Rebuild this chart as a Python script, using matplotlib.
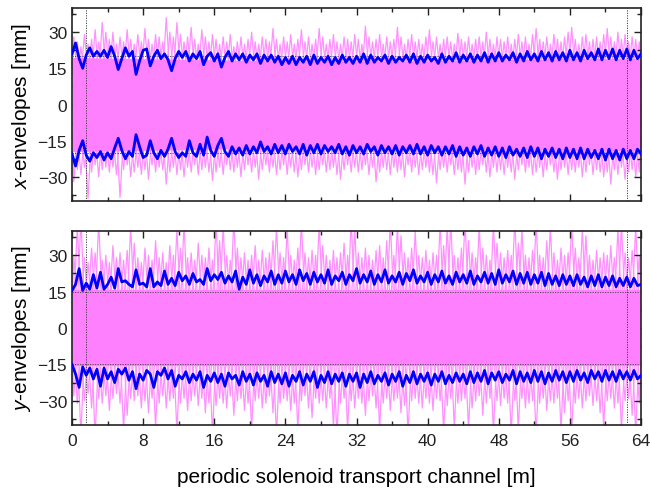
import numpy as np
import matplotlib
matplotlib.use("Agg")
import matplotlib.pyplot as plt
from matplotlib.ticker import MultipleLocator

plt.rcParams['font.family'] = ['Liberation Sans', 'DejaVu Sans']
plt.rcParams['mathtext.fontset'] = 'custom'
plt.rcParams['mathtext.it'] = 'Liberation Sans:italic'
plt.rcParams['mathtext.rm'] = 'Liberation Sans'

# channel length [m]
CHANNEL_LEN = 64.0
# marks for the start / end of the matched section [m]
SECTION_MARKS = [1.6, 62.4]

# rms-type envelopes (blue), sampled every 0.4 m
x_env_upper = [
    21, 25.5, 19, 15, 20.5, 23.5, 20, 22, 20, 22.5,
    19.5, 24, 20, 14.5, 19, 23.5, 20, 22, 12.5, 18,
    22.5, 23, 16, 20, 22.5, 19, 21, 18.5, 14, 19,
    22, 19.5, 22, 18, 21, 19, 22, 16.5, 20, 21.5,
    18, 21, 15.5, 19.5, 22, 18, 21, 18.5, 21, 17.5,
    20.5, 18.5, 21, 17, 20.5, 18, 20.5, 17.5, 20, 16.5,
    19.5, 17, 20, 16.5, 19.5, 17.5, 20, 16.5, 20.5, 17,
    19.5, 17.5, 20, 16.5, 19.5, 17, 20.5, 17.5, 19.5, 17,
    20, 17.5, 21, 17, 20.5, 17.5, 19.5, 18, 20.5, 17,
    20, 17.5, 19.5, 18, 20.5, 17.5, 21, 17, 20, 17.5,
    20.5, 18, 19.5, 17, 21, 17.5, 20, 18, 21.5, 17.5,
    20.5, 18, 21, 17.5, 20.5, 18, 21.5, 17.5, 21, 18,
    21.5, 18, 20.5, 18.5, 21.5, 17.5, 21, 18, 22, 18.5,
    21, 18, 22, 18.5, 21.5, 18, 22, 18.5, 21.5, 18,
    22.5, 18.5, 21.5, 18, 22.5, 19, 21.5, 18.5, 23, 18.5,
    22.5, 19, 23, 18.5, 22.5, 19, 23, 18.5, 22.5, 19,
    21,
]
x_env_lower = [
    -20.5, -25.5, -19, -15, -21, -23.5, -20, -22, -19.5, -23,
    -20, -22.5, -18, -14, -19, -22.5, -19.5, -21.5, -12.5, -17.5,
    -22, -21, -15, -20, -22.5, -19, -21.5, -18.5, -14, -19.5,
    -22, -20, -21.5, -15, -20, -21.5, -16.5, -21, -13.5, -19,
    -21.5, -17, -14, -19.5, -21.5, -17.5, -20.5, -18, -21, -17,
    -20.5, -17.5, -20, -15.5, -19.5, -17.5, -20.5, -16.5, -20, -17,
    -20.5, -16.5, -19.5, -17.5, -20.5, -16.5, -21, -17, -20, -16.5,
    -20.5, -17, -19.5, -17.5, -20, -16.5, -20.5, -17.5, -21, -17,
    -20, -17.5, -20.5, -16.5, -19.5, -17.5, -21, -17, -20, -17.5,
    -20.5, -17, -21, -17.5, -20, -17, -20.5, -16.5, -20.5, -17.5,
    -21, -17, -20, -17.5, -21, -17.5, -20.5, -17, -21.5, -17.5,
    -21, -18, -21.5, -17.5, -20.5, -17, -21.5, -18, -21, -17.5,
    -21.5, -18, -22, -17.5, -21, -18.5, -21.5, -18, -22, -17.5,
    -21.5, -18, -22.5, -18.5, -21.5, -18, -22, -18.5, -22.5, -18,
    -22, -18.5, -22.5, -18, -22.5, -18.5, -22, -19, -22.5, -18.5,
    -23, -18.5, -22.5, -19, -23, -18.5, -22.5, -19, -22.5, -18.5,
    -20.5,
]
y_env_upper = [
    15.5, 18, 24.5, 15.5, 18.5, 16, 22, 16.5, 23, 16,
    18, 21, 16.5, 24.5, 19, 19.5, 18, 17, 24, 18,
    18.5, 17, 24.5, 17, 19, 17.5, 23.5, 18, 20.5, 17.5,
    23, 19.5, 21.5, 18, 22.5, 19, 20, 18, 24.5, 19.5,
    22, 20, 23, 18.5, 21.5, 19, 23.5, 16, 21, 18,
    24, 18.5, 22, 17.5, 21.5, 19, 23.5, 18, 22, 18.5,
    23.5, 19, 22, 18, 24, 19.5, 22.5, 18, 23, 19,
    22, 18.5, 24, 18, 21.5, 19.5, 23, 18, 22, 19.5,
    24.5, 18.5, 22, 19, 23.5, 18, 22, 19, 24, 18.5,
    21.5, 19, 23, 18, 22.5, 19.5, 24, 18.5, 21.5, 19,
    23, 18, 22, 19, 23.5, 18.5, 21.5, 18, 23, 19,
    22, 18.5, 23.5, 18, 21.5, 19, 23, 18.5, 22.5, 18,
    24, 18.5, 22, 19, 23.5, 18, 22.5, 18.5, 23, 18,
    22, 18.5, 23, 17.5, 22.5, 18, 21.5, 17.5, 22, 18,
    21.5, 17.5, 22, 18, 21, 17, 21.5, 17.5, 22, 17,
    21, 17.5, 21.5, 17, 20.5, 17.5, 21, 17, 20.5, 17.5,
    18,
]
y_env_lower = [
    -15, -19, -24.5, -16, -19.5, -16.5, -21, -17, -24, -16.5,
    -21, -18, -22.5, -17, -19, -16.5, -21.5, -18, -25, -19,
    -21.5, -17.5, -19, -24.5, -18, -19.5, -16.5, -21, -17.5, -24,
    -19.5, -21, -18, -22.5, -19, -21.5, -18, -24.5, -19.5, -22,
    -18.5, -22.5, -19, -24, -18.5, -21, -19.5, -23.5, -18, -22,
    -19, -23.5, -18.5, -22, -19.5, -24, -18, -22.5, -19, -23,
    -18.5, -24, -19.5, -22, -18, -23.5, -19, -22, -18, -24.5,
    -19.5, -22.5, -18, -23, -19, -22, -18.5, -24, -19, -22,
    -18.5, -24.5, -19, -22.5, -18, -23, -19.5, -22, -18.5, -23.5,
    -19, -22, -18, -24, -19.5, -22.5, -18, -23, -19, -22,
    -18.5, -23.5, -19, -22, -18, -23, -19.5, -22.5, -18.5, -22,
    -19, -23, -18, -22.5, -18.5, -22, -17.5, -23, -18.5, -21.5,
    -18, -22.5, -19, -21.5, -17.5, -23, -18, -22, -18.5, -22.5,
    -17.5, -22, -18, -23, -18.5, -22, -17.5, -21.5, -18, -22.5,
    -18, -22, -17.5, -21.5, -18.5, -22.5, -17.5, -21, -18, -22,
    -17.5, -21.5, -18, -22, -17.5, -21, -18, -21.5, -17.5, -21,
    -19.5,
]

# dense particle core, half-width every 8 m
x_core_upper = [19.5, 19, 18.5, 18, 18, 18, 18.5, 19, 19]
x_core_lower = [-19.5, -19, -18.5, -18, -18, -18.5, -18.5, -19, -19]
y_core_upper = [15.5, 15.5, 15.5, 15.5, 15.5, 15.5, 15.5, 15.5, 15.5]
y_core_lower = [-15.5, -15.5, -15.5, -15.5, -15.5, -15.5, -15.5, -15.5, -15.5]

# outermost single-particle excursions, one per 0.4 m cell
x_spike_upper = [
    28, 26, 24, 29, 25, 27, 31, 26, 34, 30,
    27, 30, 25, 28, 26, 31, 27, 25, 29, 26,
    31.5, 27, 25, 29, 28, 26, 36, 30, 28, 34,
    29, 26, 28, 32, 27, 25, 31, 28, 26, 29,
    27, 25, 28, 26, 29, 24, 26, 28, 25, 27,
    30, 26, 25, 28, 27, 26, 31.5, 27, 25, 28,
    26, 29, 25, 27, 31, 26, 28, 25, 27, 31.5,
    28, 25, 27, 29, 26, 25, 28, 27, 26, 29,
    27, 25, 32.5, 28, 26, 27, 29, 25, 28, 26,
    27, 32, 28, 25, 27, 29, 26, 27, 25, 28,
    31, 26, 28, 25, 27, 28, 26, 25, 29.5, 27,
    26, 28, 25, 27, 28, 26, 30, 27, 25, 28,
    27, 26, 28, 25, 27, 29, 26, 28, 25, 29,
    31.5, 27, 26, 28, 25, 29, 27, 26, 28, 30,
    32, 27, 25, 28, 29, 26, 27, 28, 26, 29,
    31.5, 28, 26, 30, 27, 29, 26, 28, 27, 26,
]
x_spike_lower = [
    -32, -27, -29, -26, -39, -28, -25, -30, -27, -26,
    -28, -26, -29, -38.5, -27, -25, -30, -28, -26, -29,
    -27, -31, -25, -28, -26, -27, -33, -28, -26, -29,
    -27, -30, -26, -28, -25, -29, -27, -26, -28, -31.5,
    -28, -26, -29, -25, -27, -28, -26, -30, -27, -25,
    -28, -26, -31, -27, -25, -28, -26, -29, -27, -25,
    -29, -26, -28, -30, -27, -25, -28, -26, -29, -27,
    -25, -28, -27, -26, -29, -31, -27, -25, -28, -26,
    -28, -27, -25, -29, -26, -32, -28, -26, -27, -29,
    -26, -28, -27, -30, -25, -28, -26, -29, -27, -26,
    -28, -29, -32.5, -27, -26, -28, -25, -29, -27, -28,
    -33, -28, -26, -29, -27, -25, -28, -30, -26, -28,
    -27, -29, -26, -28, -31, -27, -25, -28, -26, -29,
    -28, -26, -30, -27, -25, -28, -31, -27, -26, -29,
    -27, -28, -26, -30, -28, -25, -29, -27, -28, -30,
    -28, -33, -27, -29, -26, -31, -28, -27, -30, -28,
]
y_spike_upper = [
    30, 42, 45, 29, 27, 33, 31, 44, 28, 30,
    27, 34, 29, 31, 28, 32, 42, 35, 29, 27,
    33, 30, 28, 36, 29, 31, 27, 34, 30, 41,
    33, 43, 29, 31, 28, 35, 30, 29, 33, 28,
    44, 36, 42, 30, 28, 45, 33, 29, 31, 28,
    30, 34, 28, 32, 29, 31, 36, 42, 31, 29,
    41, 30, 28, 33, 44, 31, 29, 32, 30, 43,
    34, 30, 28, 32, 29, 31, 35, 30, 45, 41,
    31, 29, 33, 30, 28, 32, 34, 29, 36, 44,
    30, 42, 38, 31, 29, 33, 40, 30, 29, 32,
    28, 31, 30, 43, 34, 42, 44, 30, 29, 33,
    45, 36, 31, 29, 42, 33, 30, 28, 43, 35,
    31, 29, 32, 30, 45, 35, 41, 30, 29, 32,
    44, 30, 29, 36, 42, 31, 28, 33, 30, 31,
    43, 33, 29, 41, 38, 30, 28, 32, 29, 31,
    30, 34, 29, 41, 43, 31, 29, 32, 42, 30,
]
y_spike_lower = [
    -28, -31, -44, -30, -27, -33, -45, -29, -31, -28,
    -34, -29, -27, -31, -42, -36, -29, -30, -28, -33,
    -30, -35, -29, -41, -31, -28, -33, -30, -29, -43,
    -31, -29, -34, -30, -28, -32, -29, -35, -31, -44,
    -32, -29, -31, -33, -28, -36, -30, -29, -34, -31,
    -42, -30, -29, -33, -31, -28, -35, -45, -31, -29,
    -30, -34, -31, -42, -30, -28, -33, -37, -29, -31,
    -30, -33, -29, -41, -45, -31, -29, -42, -30, -33,
    -29, -31, -36, -30, -28, -33, -42, -31, -29, -34,
    -30, -29, -35, -32, -44, -30, -29, -31, -33, -29,
    -31, -34, -29, -30, -43, -32, -29, -41, -31, -30,
    -29, -42, -33, -30, -28, -36, -31, -29, -43, -30,
    -32, -29, -31, -44, -30, -42, -29, -33, -31, -30,
    -45, -31, -29, -34, -30, -31, -29, -42, -35, -30,
    -44, -31, -29, -33, -30, -28, -32, -30, -35, -41,
    -30, -29, -33, -31, -42, -30, -29, -36, -43, -31,
]

# reference apertures drawn as dotted lines [mm]
x_ref_level = 20
y_ref_level = 15

PINK_CORE = '#ff80ff'
PINK_TRACE = '#ff90ff'
BLUE = '#0000ff'
CELL = CHANNEL_LEN / 160  # 0.4 m


def trace_paths(peaks, inner):
    """Two interleaved single-particle traces from one list of excursions."""
    peaks = np.asarray(peaks, float)
    paths = []
    for j in (0, 1):
        p = peaks[j::2]
        n = len(p)
        s = (np.arange(2 * n + 1) + j) * CELL - CELL / 2
        v = np.full(2 * n + 1, inner, float)
        v[1::2] = p
        paths.append((np.clip(s, 0, CHANNEL_LEN), v))
    return paths


def draw_panel(ax, env_hi, env_lo, core_hi, core_lo, spk_hi, spk_lo,
               inner, ref, label):
    env_hi = np.asarray(env_hi, float)
    env_lo = np.asarray(env_lo, float)
    s_env = np.linspace(0, CHANNEL_LEN, len(env_hi))
    s_core = np.linspace(0, CHANNEL_LEN, len(core_hi))
    for peaks, base in ((spk_hi, inner), (spk_lo, -inner)):
        for s, v in trace_paths(peaks, base):
            ax.plot(s, v, color=PINK_TRACE, lw=0.9, zorder=1)
    ax.fill_between(s_core, core_lo, core_hi, color=PINK_CORE, lw=0, zorder=2)
    for lev in (ref, -ref):
        ax.axhline(lev, color='#444444', lw=0.6, ls=(0, (1.5, 1.5)), zorder=3)
    for m in SECTION_MARKS:
        ax.axvline(m, color='#333333', lw=0.6, ls=(0, (1.5, 1.5)), zorder=3)
    ax.plot(s_env, env_hi, color=BLUE, lw=2.0, zorder=4)
    ax.plot(s_env, env_lo, color=BLUE, lw=2.0, zorder=4)

    ax.set_xlim(0, CHANNEL_LEN)
    ax.set_ylim(-40, 40)
    ax.xaxis.set_major_locator(MultipleLocator(8))
    ax.xaxis.set_minor_locator(MultipleLocator(4))
    ax.yaxis.set_major_locator(MultipleLocator(15))
    ax.yaxis.set_minor_locator(MultipleLocator(7.5))
    ax.tick_params(which='both', direction='in', top=True, right=True,
                   labelsize=12.5, width=1.0, colors='#222222')
    ax.tick_params(which='major', length=5)
    ax.tick_params(which='minor', length=3)
    ax.tick_params(axis='x', which='major', pad=6)
    for sp in ax.spines.values():
        sp.set_linewidth(1.2)
        sp.set_color('#222222')
    ax.set_ylabel(label, fontsize=15, labelpad=3)


fig = plt.figure(figsize=(6.5, 4.89), dpi=100)
ax1 = fig.add_axes([0.1108, 0.5869, 0.8754, 0.3947])
ax2 = fig.add_axes([0.1108, 0.1288, 0.8754, 0.3967])

draw_panel(ax1, x_env_upper, x_env_lower, x_core_upper, x_core_lower,
           x_spike_upper, x_spike_lower, 12.0, x_ref_level,
           r'$x$-envelopes [mm]')
draw_panel(ax2, y_env_upper, y_env_lower, y_core_upper, y_core_lower,
           y_spike_upper, y_spike_lower, 9.0, y_ref_level,
           r'$y$-envelopes [mm]')
ax1.tick_params(labelbottom=False)
ax2.set_xlabel('periodic solenoid transport channel [m]', fontsize=15)
ax2.xaxis.set_label_coords(0.5, -0.215)

fig.savefig('out.png', dpi=100)
